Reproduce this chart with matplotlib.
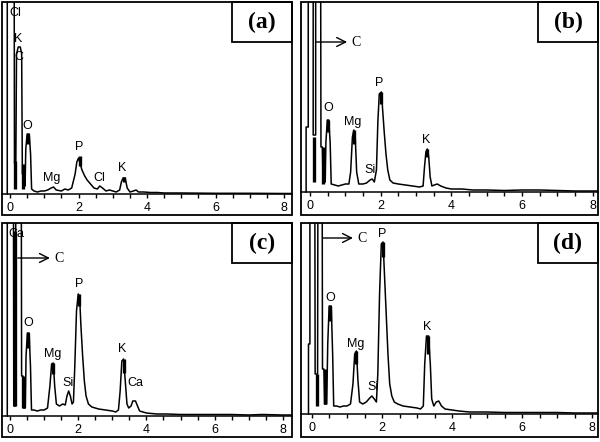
import numpy as np
import matplotlib
matplotlib.use('Agg')
import matplotlib.pyplot as plt
from matplotlib.patches import Rectangle

# EDS spectra, energy in keV, counts in arbitrary units
energy_a = [-0.08, -0.08, 0.12, 0.13, 0.17, 0.19, 0.24, 0.30, 0.34, 0.36, 0.42, 0.44, 0.46, 0.50, 0.56,
            0.60, 0.63, 0.70, 0.80, 0.90, 1.00, 1.10, 1.20, 1.27, 1.35, 1.50, 1.60, 1.70, 1.80, 1.90,
            1.95, 2.00, 2.05, 2.10, 2.18, 2.25, 2.35, 2.45, 2.55, 2.62, 2.70, 2.80, 2.90, 3.00, 3.10,
            3.20, 3.25, 3.30, 3.36, 3.42, 3.50, 3.60, 3.68, 3.75, 3.90, 4.10, 4.30, 4.50, 5.00, 6.00,
            7.00, 8.00, 8.25]
counts_a = [0, 250, 250, 31, 31, 140, 147, 147, 140, 20, 20, 8, 45, 60, 60,
            40, 5, 3, 2, 3, 3, 4, 6, 7, 4, 3, 5, 4, 6, 20,
            32, 36, 30, 24, 18, 14, 10, 6, 5, 8, 6, 3, 4, 3, 2,
            4, 12, 16, 16, 6, 2, 3, 4, 2, 2, 1.5, 1.5, 1, 1, 0.7,
            0.7, 0.5, 0.5]

energy_b = [-0.11, -0.11, -0.05, -0.05, 0.09, 0.09, 0.16, 0.16, 0.30, 0.31, 0.35, 0.37, 0.43, 0.45, 0.49,
            0.53, 0.57, 0.60, 0.70, 0.80, 0.90, 1.00, 1.10, 1.15, 1.20, 1.24, 1.28, 1.32, 1.38, 1.50,
            1.60, 1.70, 1.76, 1.82, 1.88, 1.92, 1.96, 2.02, 2.06, 2.10, 2.15, 2.20, 2.26, 2.35, 2.50,
            2.70, 2.90, 3.10, 3.20, 3.24, 3.28, 3.32, 3.36, 3.40, 3.45, 3.52, 3.60, 3.70, 3.85, 4.00,
            4.30, 4.60, 5.00, 5.50, 6.00, 6.50, 7.00, 7.50, 8.00, 8.15]
counts_b = [0, 65, 65, 250, 250, 57, 57, 250, 250, 45, 45, 10, 10, 50, 72,
            72, 50, 8, 7, 6, 7, 8, 8, 20, 55, 62, 55, 20, 8, 8,
            9, 12, 13, 10, 22, 70, 98, 100, 80, 60, 38, 22, 12, 9, 8,
            7, 6, 5, 6, 25, 40, 43, 35, 15, 6, 7, 8, 6, 4, 3,
            3, 2, 2, 1.5, 2, 2, 1.5, 1, 1, 1]

energy_c = [-0.08, -0.08, 0.10, 0.11, 0.16, 0.17, 0.33, 0.34, 0.38, 0.40, 0.45, 0.47, 0.51, 0.56, 0.60,
            0.63, 0.70, 0.80, 0.90, 1.00, 1.10, 1.17, 1.22, 1.27, 1.31, 1.36, 1.45, 1.55, 1.62, 1.67,
            1.72, 1.77, 1.82, 1.86, 1.90, 1.95, 2.00, 2.04, 2.08, 2.13, 2.18, 2.23, 2.30, 2.40, 2.60,
            2.80, 3.00, 3.10, 3.18, 3.23, 3.28, 3.33, 3.38, 3.43, 3.48, 3.55, 3.60, 3.68, 3.74, 3.80,
            3.90, 4.00, 4.30, 4.60, 5.00, 5.50, 6.00, 6.50, 7.00, 7.40, 8.00, 8.27]
counts_c = [0, 250, 250, 10, 10, 250, 250, 40, 40, 8, 8, 60, 83, 83, 50,
            6, 6, 5, 6, 6, 8, 30, 52, 53, 30, 12, 10, 12, 11, 20,
            25, 20, 12, 14, 50, 105, 122, 120, 90, 60, 35, 20, 12, 9, 7,
            6, 5, 4, 6, 25, 55, 57, 35, 12, 8, 10, 15, 15, 10, 5,
            4, 3, 2, 2, 1.5, 1.5, 1.5, 1.5, 1, 1.5, 1, 1]

energy_d = [-0.10, -0.10, -0.06, -0.06, 0.08, 0.09, 0.16, 0.17, 0.29, 0.30, 0.34, 0.36, 0.42, 0.45, 0.49,
            0.55, 0.59, 0.62, 0.70, 0.80, 0.90, 1.00, 1.10, 1.17, 1.22, 1.27, 1.31, 1.36, 1.45, 1.55,
            1.65, 1.71, 1.78, 1.84, 1.88, 1.93, 1.98, 2.03, 2.07, 2.12, 2.17, 2.22, 2.28, 2.35, 2.45,
            2.60, 2.80, 3.00, 3.10, 3.18, 3.22, 3.27, 3.33, 3.38, 3.42, 3.48, 3.55, 3.62, 3.70, 3.80,
            4.00, 4.20, 4.50, 5.00, 5.50, 6.00, 6.50, 7.00, 7.50, 8.00, 8.17]
counts_d = [0, 70, 70, 250, 250, 40, 40, 250, 250, 45, 45, 10, 10, 70, 108,
            108, 60, 8, 8, 7, 8, 8, 10, 30, 60, 63, 35, 12, 10, 12,
            16, 18, 15, 12, 40, 120, 170, 172, 140, 100, 60, 30, 18, 12, 10,
            8, 7, 6, 5, 8, 50, 78, 78, 50, 15, 8, 12, 13, 8, 5,
            4, 3, 2, 2, 1.5, 1.5, 1.5, 1.5, 1, 1, 1]

# element marker bars: energy, lower, upper
markers_a = [(0.15, 5, 33), (0.39, 5, 30), (0.53, 50, 60), (2.03, 28, 38), (3.33, 12, 17)]
markers_b = [(0.12, 10, 55), (0.38, 8, 45), (0.51, 60, 72), (1.24, 48, 62), (2.0, 88, 100), (3.32, 35, 43)]
markers_c = [(0.14, 10, 185), (0.39, 8, 40), (0.53, 68, 83), (1.26, 42, 53), (2.02, 110, 122), (3.33, 43, 57)]
markers_d = [(0.13, 8, 40), (0.37, 10, 45), (0.52, 93, 108), (1.26, 50, 63), (2.02, 157, 172), (3.30, 60, 78)]

# element labels: text, energy, height
labels_a = [("Cl", 0.15, 181), ("K", 0.23, 155), ("C", 0.26, 137), ("O", 0.5, 68),
            ("Mg", 1.23, 16), ("P", 2.01, 47), ("Cl", 2.6, 16), ("K", 3.27, 26)]
labels_b = [("O", 0.51, 84), ("Mg", 1.22, 70), ("Si", 1.70, 22), ("P", 1.95, 109), ("K", 3.28, 52)]
labels_c = [("Ca", 0.2, 182), ("O", 0.53, 93), ("Mg", 1.26, 62), ("Si", 1.70, 33),
            ("P", 2.02, 132), ("K", 3.28, 67), ("Ca", 3.67, 33)]
labels_d = [("P", 2.0, 180), ("O", 0.51, 116), ("Mg", 1.26, 70), ("Si", 1.74, 27), ("K", 3.29, 87)]

# arrow pointing at carbon peak: start energy, end energy, height
arrows = {'b': (0.17, 1.05, 150), 'c': (0.23, 1.17, 158), 'd': (0.31, 1.17, 176)}

tick_values = [0, 2, 4, 6, 8]

# panel boxes in pixels (left, top, right, bottom) and baseline y pixel
W, H = 600, 442
panels = [
    ('a', (2, 2, 292, 215), 194, (-0.234, 8.23), energy_a, counts_a, markers_a, labels_a),
    ('b', (301, 2, 598, 215), 192, (-0.255, 8.15), energy_b, counts_b, markers_b, labels_b),
    ('c', (2, 223, 292, 437), 416, (-0.235, 8.27), energy_c, counts_c, markers_c, labels_c),
    ('d', (301, 223, 598, 437), 414, (-0.314, 8.17), energy_d, counts_d, markers_d, labels_d),
]

fig = plt.figure(figsize=(6, 4.42), dpi=100)

for tag, (l, t, r, b), base, xlim, en, ct, marks, labs in panels:
    ax = fig.add_axes([l / W, 1 - b / H, (r - l) / W, (b - t) / H])
    ax.set_xlim(*xlim)
    ax.set_ylim(-(b - base), base - t)

    ax.plot(en, ct, color='black', lw=1.1)
    for e, lo, hi in marks:
        ax.vlines(e, lo, hi, color='black', lw=2.4)
    for txt, e, h in labs:
        ax.text(e, h, txt, ha='center', va='center', fontsize=9,
                family='Liberation Sans', color='black')

    if tag in arrows:
        x0, x1, h = arrows[tag]
        ax.annotate('', xy=(x1, h), xytext=(x0, h),
                    arrowprops=dict(arrowstyle='->', color='black', lw=1.0,
                                    mutation_scale=16, shrinkA=0, shrinkB=0))
        ax.text(x1 + 0.12, h, 'C', ha='left', va='center', fontsize=10,
                family='Liberation Serif', color='black')

    # axis line at the spectrum baseline
    for s in ['top', 'left', 'right']:
        ax.spines[s].set_visible(False)
    ax.spines['bottom'].set_position(('data', 0))
    ax.spines['bottom'].set_linewidth(1.1)
    ax.set_yticks([])
    ax.set_xticks(tick_values)
    ax.set_xticks(np.arange(0, 8.01, 0.5), minor=True)
    ax.tick_params(axis='x', which='both', direction='out', length=3, width=1, pad=3,
                   labelsize=9)
    for lab in ax.get_xticklabels():
        lab.set_family('Liberation Sans')

    # outer frame and tag box
    ax.add_patch(Rectangle((0, 0), 1, 1, transform=ax.transAxes, fill=False,
                           lw=1.3, edgecolor='black', clip_on=False))
    bw = 60 / (r - l)
    bh = 40 / (b - t)
    ax.add_patch(Rectangle((1 - bw, 1 - bh), bw, bh, transform=ax.transAxes, fill=False,
                           lw=1.3, edgecolor='black', clip_on=False))
    ax.text(1 - bw / 2, 1 - bh / 2, '(' + tag + ')', transform=ax.transAxes,
            ha='center', va='center', fontsize=17, fontweight='bold',
            family='Liberation Serif')

fig.savefig('out.png', dpi=100)
